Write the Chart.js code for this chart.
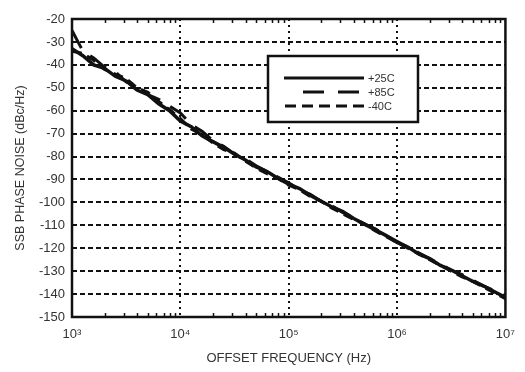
<!DOCTYPE html>
<html>
<head>
<meta charset="utf-8">
<script src="https://cdn.jsdelivr.net/npm/chart.js@4"></script>
<style>
  html, body { margin: 0; padding: 0; background: #fff; }
  #wrap { width: 525px; height: 372px; }
</style>
</head>
<body>
<div id="wrap"><canvas id="noise"></canvas></div>
<script>
(function() {

  "use strict";

  // offset frequencies, Hz (0.1 decade steps)
  var freqs = [
    1000, 1259, 1585, 1995, 2512, 3162, 3981, 5012, 6310, 7943,
    10000, 12589, 15849, 19953, 25119, 31623, 39811, 50119, 63096, 79433,
    100000, 125893, 158489, 199526, 251189, 316228, 398107, 501187, 630957, 794328,
    1000000, 1258925, 1584893, 1995262, 2511886, 3162278, 3981072, 5011872, 6309573, 7943282,
    10000000
  ];

  // SSB phase noise, dBc/Hz
  var plus25 = [
    -33, -36, -40, -41.5, -45, -47, -51, -53, -57, -60,
    -64.5, -67, -71, -73.5, -76, -79, -81.5, -84.5, -86.5, -89.5,
    -92, -94, -97, -99.5, -102, -104, -107, -109.5, -112, -114.5,
    -117.5, -119.5, -122.5, -124.5, -127.5, -129.5, -132, -134.5, -136.5, -139,
    -141.5
  ];
  var plus85 = [
    -25, -34, -37, -41, -43, -47.5, -49, -53, -55, -58,
    -61, -66, -69, -73, -75.5, -79, -81, -84, -86.5, -89,
    -91.5, -94.5, -96.5, -99.5, -101.5, -104.5, -106.5, -109.5, -111.5, -114.5,
    -117, -119.5, -122, -124.5, -127, -129.5, -131.5, -134, -136.5, -138.5,
    -141
  ];
  var minus40 = [
    -34, -35, -38, -42, -44, -46, -50, -52, -56, -59.5,
    -63.5, -68, -70.5, -74, -77, -78.5, -82, -85, -87.5, -89.5,
    -92.5, -94.5, -97.5, -99.5, -102.5, -105, -107.5, -109.5, -112.5, -115,
    -117.5, -120, -122.5, -125, -127.5, -130, -132.5, -134.5, -137, -139.5,
    -142
  ];

  var seriesNames = ["+25C", "+85C", "-40C"];

  // x axis: decade labels and the minor tick positions along the frame
  var decades = [1e3, 1e4, 1e5, 1e6, 1e7];
  var decadeLabels = ["10\u00b3", "10\u2074", "10\u2075", "10\u2076", "10\u2077"];
  var minorTicks = [];
  decades.slice(0, 4).forEach(function(d) {
    for (var m = 2; m <= 9; m++) minorTicks.push(d * m);
  });

  var ink = "#111";
  var textColor = "#333";
  var font = "'Liberation Sans', Arial, sans-serif";

  var toPoints = function(ys) {
    return ys.map(function(y, i) { return { x: freqs[i], y: y }; });
  };

  // frame, minor ticks and the boxed key
  var framePlugin = {
    id: "frame",
    afterDatasetsDraw: function(chart) {
      var ctx = chart.ctx;
      var a = chart.chartArea;
      var xs = chart.scales.x;

      ctx.save();
      ctx.strokeStyle = ink;
      ctx.lineWidth = 1.5;
      ctx.setLineDash([]);
      minorTicks.forEach(function(f) {
        var px = Math.round(xs.getPixelForValue(f)) + 0.5;
        ctx.beginPath();
        ctx.moveTo(px, a.bottom); ctx.lineTo(px, a.bottom - 4);
        ctx.moveTo(px, a.top); ctx.lineTo(px, a.top + 4);
        ctx.stroke();
      });

      ctx.lineWidth = 2.5;
      ctx.strokeRect(a.left, a.top, a.right - a.left, a.bottom - a.top);

      // key box
      var bx = 268, by = 56, bw = 150, bh = 66;
      ctx.fillStyle = "#fff";
      ctx.fillRect(bx, by, bw, bh);
      ctx.lineWidth = 2.5;
      ctx.strokeStyle = ink;
      ctx.strokeRect(bx, by, bw, bh);

      var rows = [
        { y: 78, x0: 284, x1: 364 },
        { y: 92, x0: 303, x1: 364 },
        { y: 106, x0: 285, x1: 364 }
      ];
      chart.data.datasets.forEach(function(ds, i) {
        var r = rows[i];
        ctx.beginPath();
        ctx.lineWidth = 3;
        ctx.setLineDash(ds.keyDash || []);
        ctx.moveTo(r.x0, r.y);
        ctx.lineTo(r.x1, r.y);
        ctx.stroke();
        ctx.setLineDash([]);
        ctx.fillStyle = textColor;
        ctx.font = "11px " + font;
        ctx.textBaseline = "middle";
        ctx.fillText(ds.label, 368, r.y + 1);
      });
      ctx.restore();
    }
  };

  var edge = function(ctx) {
    var v = ctx.tick && ctx.tick.value;
    return v === ctx.scale.min || v === ctx.scale.max;
  };

  new Chart(document.getElementById("noise"), {
    type: "line",
    data: {
      datasets: [{
        label: seriesNames[0],
        data: toPoints(plus25),
        borderColor: ink,
        borderWidth: 3.5,
        keyDash: []
      }, {
        label: seriesNames[1],
        data: toPoints(plus85),
        borderColor: ink,
        borderWidth: 3,
        borderDash: [20, 12],
        keyDash: [21, 14]
      }, {
        label: seriesNames[2],
        data: toPoints(minus40),
        borderColor: ink,
        borderWidth: 3,
        borderDash: [10, 6],
        keyDash: [11, 6]
      }]
    },
    options: {
      responsive: true,
      maintainAspectRatio: false,
      animation: false,
      layout: { padding: { top: 19, right: 16, left: 0, bottom: 0 } },
      elements: { point: { radius: 0 }, line: { tension: 0 } },
      plugins: { legend: { display: false }, tooltip: { enabled: false } },
      scales: {
        x: {
          type: "logarithmic",
          min: 1e3,
          max: 1e7,
          afterBuildTicks: function(scale) {
            scale.ticks = decades.map(function(v) { return { value: v }; });
          },
          afterFit: function(scale) { scale.height = 55; },
          border: { display: false, dash: [2, 4] },
          grid: {
            drawTicks: false,
            lineWidth: 2,
            color: function(ctx) { return edge(ctx) ? "rgba(0,0,0,0)" : ink; }
          },
          ticks: {
            color: textColor,
            font: { family: font, size: 13 },
            padding: 10,
            maxRotation: 0,
            autoSkip: false,
            callback: function(value) {
              var i = decades.indexOf(value);
              return i < 0 ? "" : decadeLabels[i];
            }
          },
          title: {
            display: true,
            text: "OFFSET FREQUENCY (Hz)",
            color: textColor,
            font: { family: font, size: 13 },
            padding: { top: 4, bottom: 6 }
          }
        },
        y: {
          min: -150,
          max: -20,
          afterFit: function(scale) { scale.width = 72; },
          border: { display: false, dash: [5, 3] },
          grid: {
            drawTicks: false,
            lineWidth: 2,
            color: function(ctx) { return edge(ctx) ? "rgba(0,0,0,0)" : ink; }
          },
          ticks: {
            stepSize: 10,
            color: textColor,
            font: { family: font, size: 13 },
            padding: 7
          },
          title: {
            display: true,
            text: "SSB PHASE NOISE (dBc/Hz)",
            color: textColor,
            font: { family: font, size: 12.5 },
            padding: { top: 13, bottom: 0 }
          }
        }
      }
    },
    plugins: [framePlugin]
  });

})();
</script>
</body>
</html>
